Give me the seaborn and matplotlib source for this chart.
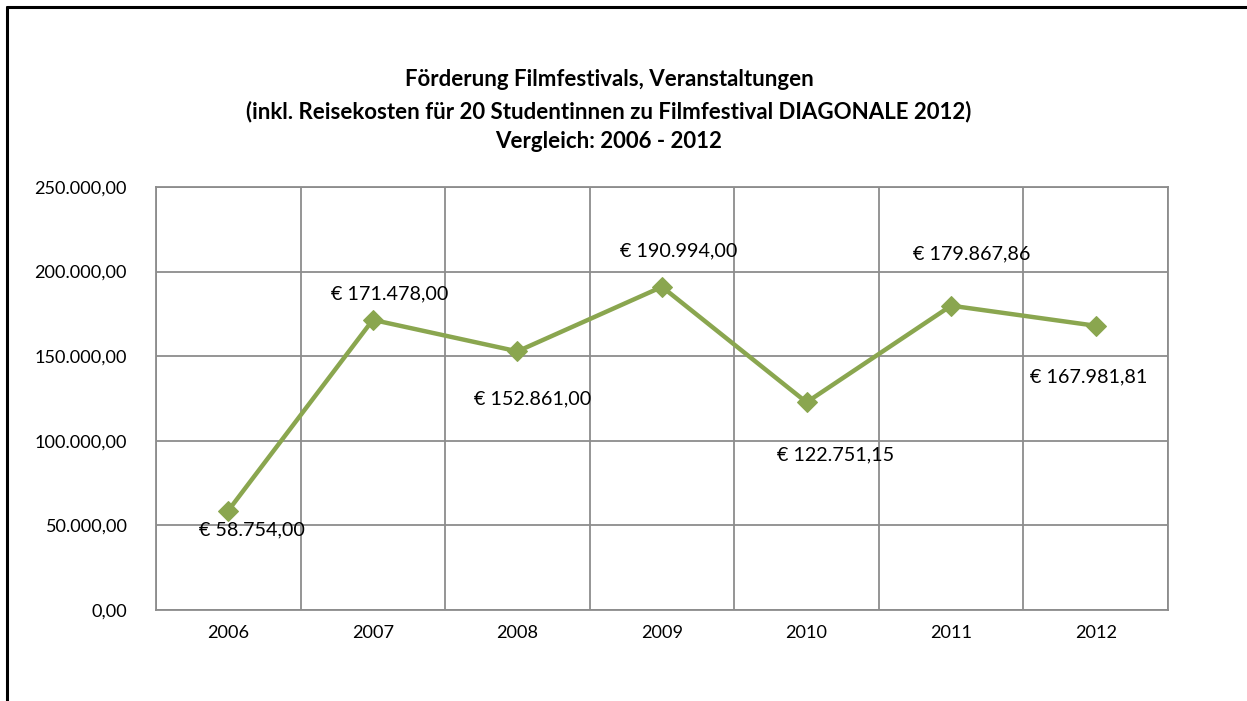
import matplotlib
matplotlib.use('Agg')
import matplotlib.pyplot as plt
import matplotlib.ticker as mticker
import seaborn as sns
import pandas as pd

# chart data
years = ['2006', '2007', '2008', '2009', '2010', '2011', '2012']
amounts = [58754.00, 171478.00, 152861.00, 190994.00, 122751.15, 179867.86, 167981.81]
value_labels = ['€ 58.754,00', '€ 171.478,00', '€ 152.861,00', '€ 190.994,00',
                '€ 122.751,15', '€ 179.867,86', '€ 167.981,81']

# label offsets in points (layout only)
label_offsets = [(17, -14), (12, 19), (11, -34), (12, 26), (21, -38), (15, 37), (-5, -37)]

df = pd.DataFrame({'year': years, 'amount': amounts})

sns.set_theme(style='white')
plt.rcParams['font.family'] = ['Lato', 'DejaVu Sans']
plt.rcParams['text.color'] = 'black'

fig = plt.figure(figsize=(12.47, 7.01), dpi=100)
ax = fig.add_axes([156 / 1247, 1 - 610 / 701, 1012 / 1247, 423 / 701])

line_color = '#8AA64F'
x_pos = list(range(len(years)))
sns.lineplot(x=x_pos, y=df['amount'], ax=ax, color=line_color, linewidth=3.2,
             marker='D', markersize=10, markeredgecolor=line_color, markerfacecolor=line_color)

ax.set_xlim(-0.5, len(years) - 0.5)
ax.set_ylim(0, 250000)
ax.yaxis.set_major_locator(mticker.MultipleLocator(50000))
ax.yaxis.set_major_formatter(mticker.FuncFormatter(
    lambda v, p: f'{v:,.2f}'.replace(',', 'X').replace('.', ',').replace('X', '.')))
ax.set_xticks(x_pos)
ax.set_xticklabels(years)
ax.xaxis.set_minor_locator(mticker.FixedLocator([i - 0.5 for i in range(len(years) + 1)]))

ax.grid(True, axis='y', which='major', color='#8C8C8C', linewidth=1.3)
ax.grid(True, axis='x', which='minor', color='#8C8C8C', linewidth=1.3)
ax.grid(False, axis='x', which='major')
for s in ax.spines.values():
    s.set_color('#8C8C8C')
    s.set_linewidth(1.3)
ax.tick_params(axis='both', which='both', length=0, labelsize=13.1, colors='black')
ax.tick_params(axis='x', pad=11)
ax.tick_params(axis='y', pad=21)
ax.set_xlabel('')
ax.set_ylabel('')

for xi, yi, txt, off in zip(x_pos, amounts, value_labels, label_offsets):
    ax.annotate(txt, (xi, yi), xytext=off, textcoords='offset points',
                ha='center', va='center', fontsize=14.2, color='black')

title_lines = ['Förderung Filmfestivals, Veranstaltungen',
               '(inkl. Reisekosten für 20 Studentinnen zu Filmfestival DIAGONALE 2012)',
               'Vergleich: 2006 - 2012']
for line, ypx in zip(title_lines, [80, 112, 141]):
    fig.text(609 / 1247, 1 - ypx / 701, line, ha='center', va='center',
             fontsize=16, fontweight='bold', color='black')

# outer chart border (left and top visible)
fig.add_artist(plt.Line2D([7 / 1247, 7 / 1247], [0, 1 - 7 / 701], color='black', linewidth=2.2,
                          transform=fig.transFigure))
fig.add_artist(plt.Line2D([7 / 1247, 1], [1 - 7 / 701, 1 - 7 / 701], color='black', linewidth=2.2,
                          transform=fig.transFigure))

fig.savefig('out.png', dpi=100)
